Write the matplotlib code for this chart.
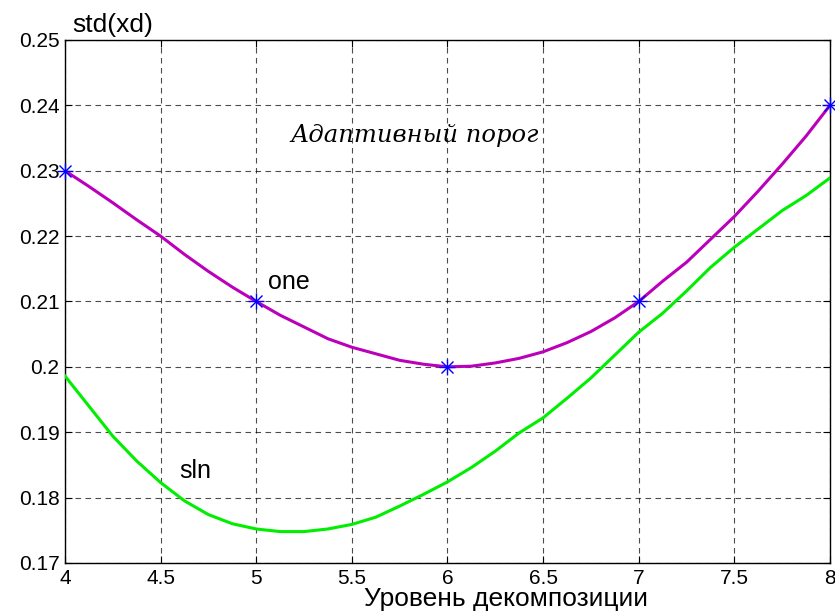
import matplotlib
matplotlib.use("Agg")
import matplotlib.pyplot as plt

x_levels = [4.0, 4.125, 4.25, 4.375, 4.5, 4.625, 4.75, 4.875, 5.0, 5.125, 5.25, 5.375,
            5.5, 5.625, 5.75, 5.875, 6.0, 6.125, 6.25, 6.375, 6.5, 6.625, 6.75, 6.875,
            7.0, 7.125, 7.25, 7.375, 7.5, 7.625, 7.75, 7.875, 8.0]
one_curve = [0.2300, 0.2276, 0.2251, 0.2225, 0.2200, 0.2172, 0.2146, 0.2122, 0.2100,
             0.2079, 0.2061, 0.2043, 0.2030, 0.2020, 0.2010, 0.2004, 0.2000, 0.2001,
             0.2006, 0.2013, 0.2023, 0.2037, 0.2054, 0.2075, 0.2100, 0.2131, 0.2160,
             0.2195, 0.2230, 0.2269, 0.2310, 0.2353, 0.2400]
sln_curve = [0.1986, 0.1940, 0.1894, 0.1856, 0.1823, 0.1795, 0.1774, 0.1760, 0.1752,
             0.1748, 0.1748, 0.1752, 0.1759, 0.1770, 0.1787, 0.1805, 0.1824, 0.1846,
             0.1871, 0.1899, 0.1922, 0.1952, 0.1983, 0.2018, 0.2053, 0.2082, 0.2116,
             0.2152, 0.2183, 0.2211, 0.2239, 0.2262, 0.2289]
marker_x = [4, 5, 6, 7, 8]
marker_y = [0.23, 0.21, 0.20, 0.21, 0.24]
xticks = [4, 4.5, 5, 5.5, 6, 6.5, 7, 7.5, 8]
xticklabels = ["4", "4.5", "5", "5.5", "6", "6.5", "7", "7.5", "8"]
yticks = [0.17, 0.18, 0.19, 0.20, 0.21, 0.22, 0.23, 0.24, 0.25]
yticklabels = ["0.17", "0.18", "0.19", "0.2", "0.21", "0.22", "0.23", "0.24", "0.25"]

plt.rcParams['font.family'] = ['Liberation Sans', 'DejaVu Sans']
fig = plt.figure(figsize=(8.35, 6.15), dpi=100)
ax = fig.add_axes([0.0778, 0.0846, 0.9162, 0.8504])

ax.plot(x_levels, one_curve, color='#bb00bb', lw=2.2, zorder=3)
ax.plot(x_levels, sln_curve, color='#00ee00', lw=2.2, zorder=3)
ax.plot(marker_x, marker_y, ls='none', marker='+', color='blue', mew=1.0,
        ms=12, zorder=4, clip_on=False)
ax.plot(marker_x, marker_y, ls='none', marker='x', color='blue', mew=1.0,
        ms=8.5, zorder=4, clip_on=False)

ax.set_xlim(4, 8)
ax.set_ylim(0.17, 0.25)
ax.set_xticks(xticks)
ax.set_xticklabels(xticklabels)
ax.set_yticks(yticks)
ax.set_yticklabels(yticklabels)
ax.tick_params(direction='in', labelsize=15, length=5, width=0.8, top=True, right=True, pad=4)
ax.grid(True, color='black', ls=(0, (5, 4)), lw=0.8, alpha=0.7)
for s in ax.spines.values():
    s.set_linewidth(1.0)

fig.text(0.606, 0.006, "Уровень декомпозиции", fontsize=19, ha='center', va='bottom')
fig.text(0.087, 0.959, "std(xd)", fontsize=19, ha='left', va='center')

ax.text(5.827, 0.2354, "Адаптивный порог", fontsize=17.5, style='italic',
        family=['DejaVu Serif'], ha='center', va='center')
ax.text(5.06, 0.2130, "one", fontsize=18, ha='left', va='center')
ax.text(4.60, 0.1841, "sln", fontsize=18, ha='left', va='center')

fig.savefig("out.png", dpi=100)
